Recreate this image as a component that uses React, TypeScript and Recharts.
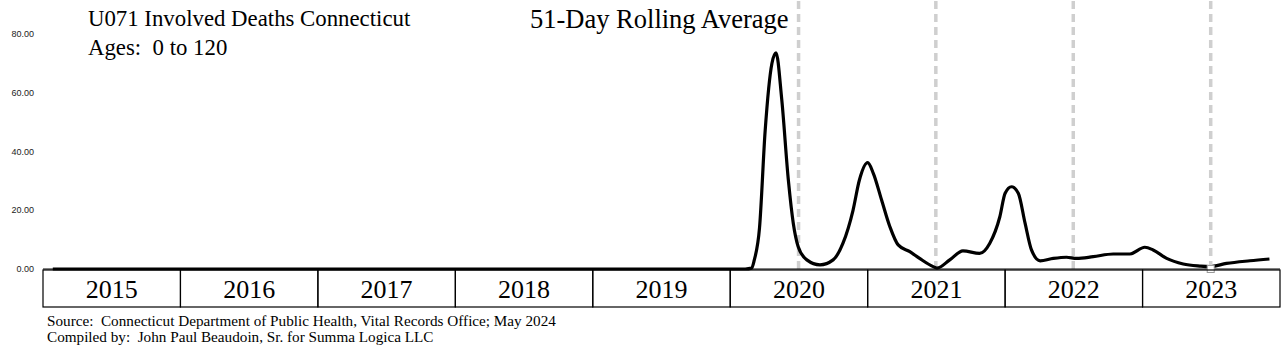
import React from "react";
import {
  LineChart,
  Line,
  XAxis,
  YAxis,
  ReferenceLine,
  ReferenceDot,
} from "recharts";

// 51-day rolling average
const dates = [
  "2015-01-27", "2020-02-10", "2020-02-27", "2020-03-05", "2020-03-19",
  "2020-04-03", "2020-04-21", "2020-05-02", "2020-05-17", "2020-06-04",
  "2020-06-17", "2020-06-30", "2020-07-23", "2020-08-27", "2020-10-01",
  "2020-10-27", "2020-11-23", "2020-12-10", "2021-01-01", "2021-01-16",
  "2021-02-07", "2021-03-01", "2021-03-23", "2021-04-23", "2021-05-19",
  "2021-06-24", "2021-07-04", "2021-08-07", "2021-09-11", "2021-10-25",
  "2021-11-21", "2021-12-18", "2022-01-01", "2022-01-18", "2022-02-05",
  "2022-02-23", "2022-03-12", "2022-04-04", "2022-05-09", "2022-06-13",
  "2022-07-10", "2022-08-23", "2022-10-15", "2022-11-28", "2023-01-07",
  "2023-01-29", "2023-03-06", "2023-04-19", "2023-06-02", "2023-06-28",
  "2023-08-12", "2023-10-13", "2023-12-04",
];
const deaths = [
  0, 0, 0.3, 3, 14,
  47, 70, 73.6, 58, 30,
  15.5, 7.6, 3.1, 1.4, 3.1,
  8.7, 20, 30.3, 36.2, 32.6,
  23.5, 14.4, 8.2, 5.9, 3.6,
  0.8, 0.3, 3.1, 6.2, 5.3,
  8.7, 17.8, 25.8, 28, 25.8,
  15.6, 6.5, 2.8, 3.6, 4.0,
  3.6, 4.2, 5.1, 5.1, 7.4,
  6.5, 3.6, 1.7, 1.0, 0.8,
  1.9, 2.8, 3.4,
];
const years = [2015, 2016, 2017, 2018, 2019, 2020, 2021, 2022, 2023];
const markerDates = ["2020-07-01", "2021-07-01", "2022-07-01", "2023-07-01"];
const yTicks = [0, 20, 40, 60, 80];

const toYear = (s: string) => {
  const [y, m, d] = s.split("-").map(Number);
  const start = Date.UTC(y, 0, 1);
  const end = Date.UTC(y + 1, 0, 1);
  return y + (Date.UTC(y, m - 1, d) - start) / (end - start);
};

const data = dates.map((d, i) => ({ t: toYear(d), v: deaths[i] }));

const W = 1288;
const H = 354;
const LEFT = 43;
const RIGHT = 8;
const yearW = (W - LEFT - RIGHT) / years.length;
const serif = "'Liberation Serif', 'Times New Roman', serif";

const YearTick = (props: any) => {
  const { x, y, payload } = props;
  return (
    <g>
      <rect x={x - yearW / 2} y={y + 1} width={yearW} height={37} fill="none" stroke="#000" strokeWidth={1.2} />
      <text x={x} y={y + 29} textAnchor="middle" fontFamily={serif} fontSize={26} fill="#000">
        {Math.floor(payload.value)}
      </text>
    </g>
  );
};

export default function App() {
  return (
    <div style={{ position: "absolute", left: 0, top: 0, width: W, height: H, background: "#fff" }}>
      <LineChart width={W} height={H} data={data} margin={{ top: 0, right: RIGHT, left: 0, bottom: 47 }}>
        <XAxis
          dataKey="t"
          type="number"
          domain={[2015, 2024]}
          ticks={years.map((y) => y + 0.5)}
          interval={0}
          tick={<YearTick />}
          tickLine={false}
          tickSize={0}
          tickMargin={0}
          height={38}
          axisLine={{ stroke: "#000", strokeWidth: 1 }}
          allowDataOverflow
        />
        <YAxis
          type="number"
          domain={[0, 91.6]}
          ticks={yTicks}
          width={LEFT}
          tickSize={0}
          tickMargin={9}
          axisLine={false}
          tickLine={false}
          tickFormatter={(v: number) => v.toFixed(2)}
          tick={{ fontSize: 9, fill: "#222", fontFamily: "'Liberation Sans', Arial, sans-serif" }}
        />
        {markerDates.map((d) => (
          <ReferenceLine
            key={d}
            x={toYear(d)}
            stroke="#cfcfcf"
            strokeWidth={3.5}
            strokeDasharray="8 5"
          />
        ))}
        <Line
          type="monotone"
          dataKey="v"
          stroke="#000"
          strokeWidth={3.2}
          dot={false}
          isAnimationActive={false}
        />
        <ReferenceDot
          x={toYear(markerDates[3])}
          y={0}
          ifOverflow="visible"
          shape={(p: any) => (
            <rect x={p.cx - 3.5} y={p.cy - 3.5} width={7} height={7} fill="#fff" stroke="#999" strokeWidth={1} />
          )}
        />
      </LineChart>
      <svg width={W} height={H} style={{ position: "absolute", left: 0, top: 0, pointerEvents: "none" }}>
        <text x={88} y={26} fontFamily={serif} fontSize={22.8} fill="#000">U071 Involved Deaths Connecticut</text>
        <text x={88} y={55} fontFamily={serif} fontSize={22.8} fill="#000" xmlSpace="preserve">Ages:  0 to 120</text>
        <text x={530} y={28} fontFamily={serif} fontSize={26.5} fill="#000">51-Day Rolling Average</text>
        <text x={47} y={326} fontFamily={serif} fontSize={15.2} fill="#000" xmlSpace="preserve">Source:  Connecticut Department of Public Health, Vital Records Office; May 2024</text>
        <text x={47} y={342} fontFamily={serif} fontSize={15.2} fill="#000" xmlSpace="preserve">Compiled by:  John Paul Beaudoin, Sr. for Summa Logica LLC</text>
      </svg>
    </div>
  );
}
